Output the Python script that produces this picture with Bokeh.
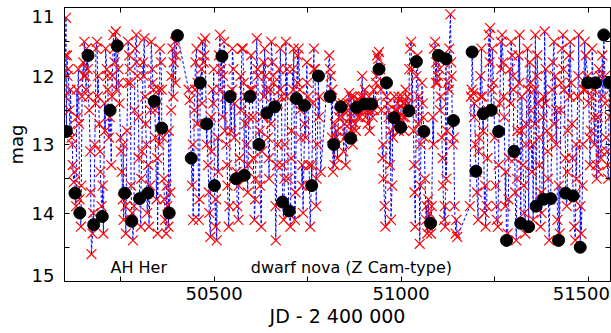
import numpy as np
from bokeh.plotting import figure
from bokeh.models import Range1d, FixedTicker, LinearAxis, Label, CustomJSTickFormatter
from bokeh.embed import file_html
from bokeh.resources import INLINE

# ---- red crosses: individual estimates, by season ----
jd_s1 = [50101, 50104, 50107, 50110, 50113, 50116, 50119, 50122, 50125, 50131, 50134, 50137,
         50140, 50144, 50147, 50150, 50153, 50156, 50159, 50162, 50166, 50169, 50172, 50175,
         50181, 50184, 50187, 50190, 50193, 50196, 50199, 50204, 50207, 50210, 50213, 50216,
         50219, 50225, 50228, 50231, 50234, 50237, 50244, 50247, 50250, 50253, 50256, 50258,
         50264, 50267, 50270, 50273, 50276, 50278, 50283, 50286, 50289, 50292, 50295, 50298,
         50304, 50307, 50310, 50313, 50316, 50319, 50321, 50326, 50329, 50332, 50335, 50338,
         50343, 50346, 50349, 50352, 50355, 50358, 50363, 50366, 50369, 50372, 50375, 50378,
         50383, 50386, 50389, 50392, 50395, 50398]
mag_s1 = [12.3, 11.15, 11.7, 11.9, 12.5, 12.2, 12.9, 13.3, 13.55, 13.9, 12.6, 11.9,
          13.8, 14.2, 12.3, 11.8, 11.5, 12.0, 11.6, 11.9, 12.5, 13.1, 14.6, 14.3,
          13.0, 11.6, 11.5, 12.0, 12.7, 13.4, 13.9, 14.3, 12.4, 11.6, 11.9, 12.2,
          12.9, 13.3, 12.0, 11.4, 11.8, 11.35, 11.9, 12.4, 12.9, 13.4, 13.8, 14.1,
          14.3, 12.8, 11.5, 11.7, 12.1, 13.6, 14.4, 13.9, 11.6, 11.4, 12.0, 12.6,
          14.2, 13.1, 11.8, 11.45, 12.3, 13.0, 14.0, 14.2, 13.6, 11.5, 11.9, 12.2,
          12.9, 13.8, 14.3, 12.2, 11.6, 11.8, 12.9, 13.5, 14.1, 14.3, 13.9, 14.2,
          13.7, 12.0, 11.6, 11.8, 11.5, 11.7]
jd_e1 = [50102, 50108, 50115, 50121, 50127, 50133, 50139, 50145, 50152, 50158, 50164, 50170,
         50177, 50183, 50189, 50195, 50202, 50209, 50215, 50221, 50227, 50233, 50239, 50245,
         50251, 50257, 50263, 50269, 50275, 50281, 50287, 50293, 50299, 50305, 50311, 50317,
         50324, 50330, 50336, 50342, 50348, 50354, 50360, 50367, 50373, 50379, 50385, 50391,
         50397]
mag_e1 = [11.7, 12.0, 12.8, 13.0, 13.4, 12.2, 12.7, 13.6, 12.0, 12.2, 12.3, 13.7,
          14.0, 12.4, 12.3, 13.1, 13.6, 12.8, 12.0, 12.6, 12.3, 11.6, 12.2, 12.1,
          13.1, 13.0, 13.9, 12.1, 11.9, 14.0, 12.5, 11.8, 13.2, 13.5, 12.0, 12.7,
          13.3, 12.5, 12.1, 12.5, 13.2, 13.0, 12.2, 13.8, 13.6, 12.8, 12.5, 12.3,
          12.1]

jd_s2 = [50432, 50435, 50441, 50444, 50447, 50450, 50453, 50456, 50459, 50466, 50469, 50472,
         50476, 50484, 50487, 50490, 50493, 50496, 50499, 50504, 50507, 50510, 50513, 50516,
         50519, 50524, 50527, 50530, 50533, 50536, 50539, 50546, 50549, 50552, 50555, 50562,
         50565, 50568, 50571, 50574, 50577, 50584, 50587, 50590, 50593, 50599, 50602, 50605,
         50608, 50611, 50614, 50617, 50623, 50626, 50629, 50632, 50635, 50638, 50644, 50647,
         50650, 50653, 50656, 50659, 50665, 50668, 50671, 50674, 50677, 50680, 50686, 50689,
         50692, 50695, 50698, 50704, 50707, 50710, 50713, 50716, 50723, 50726, 50729, 50732,
         50735, 50738, 50745, 50748, 50751, 50754, 50757, 50764, 50767, 50770, 50773, 50776,
         50782, 50785, 50808, 50812, 50815, 50818, 50823, 50826, 50830, 50834, 50837]
mag_s2 = [12.2, 12.35, 13.6, 14.1, 12.5, 11.8, 11.6, 12.1, 14.1, 11.9, 11.5, 11.8,
          11.45, 13.3, 14.0, 14.35, 13.1, 12.2, 11.9, 14.2, 14.4, 12.9, 11.7, 11.4,
          11.9, 12.0, 11.5, 12.3, 13.0, 13.6, 14.2, 12.8, 11.6, 11.9, 12.4, 13.9,
          14.1, 13.2, 12.0, 11.6, 11.6, 12.3, 13.0, 13.7, 12.6, 11.7, 12.2, 13.2,
          14.1, 13.5, 11.45, 12.0, 13.6, 14.2, 12.6, 11.8, 11.6, 12.0, 12.9, 13.5,
          12.2, 11.5, 11.8, 12.1, 14.4, 13.3, 12.4, 11.9, 11.6, 12.3, 14.1, 13.0,
          11.5, 11.9, 13.5, 14.2, 12.8, 11.9, 11.6, 14.1, 11.7, 11.6, 12.2, 12.9,
          13.6, 14.0, 12.9, 11.8, 12.3, 13.3, 14.2, 12.4, 11.6, 11.9, 13.9, 13.0,
          12.3, 13.4, 11.7, 12.0, 12.9, 13.4, 12.7, 12.9, 13.2, 12.6, 12.5]
jd_e2 = [50443, 50449, 50455, 50461, 50468, 50474, 50480, 50486, 50492, 50498, 50505, 50511,
         50517, 50523, 50529, 50535, 50541, 50548, 50554, 50560, 50566, 50572, 50579, 50585,
         50591, 50597, 50604, 50610, 50616, 50622, 50628, 50634, 50640, 50646, 50652, 50658,
         50664, 50670, 50676, 50682, 50688, 50694, 50700, 50706, 50712, 50718, 50724, 50730,
         50736, 50742, 50749, 50755, 50761, 50767, 50774, 50780, 50810, 50816, 50822, 50828,
         50833]
mag_e2 = [13.0, 12.2, 12.7, 13.8, 12.4, 11.7, 13.0, 13.7, 12.6, 12.4, 13.8, 13.4,
          12.2, 12.6, 12.8, 13.3, 13.9, 12.2, 12.9, 13.4, 13.6, 12.5, 12.1, 12.7,
          13.3, 12.2, 12.6, 13.8, 11.9, 12.8, 13.1, 12.3, 12.2, 13.2, 12.7, 12.0,
          13.9, 13.0, 12.2, 13.3, 13.5, 12.3, 14.0, 13.2, 12.2, 13.7, 12.1, 12.5,
          13.3, 12.7, 12.1, 13.6, 13.3, 11.9, 13.5, 12.6, 11.9, 12.2, 13.3, 12.8,
          12.4]

jd_s3 = [50842, 50846, 50849, 50852, 50855, 50858, 50861, 50864, 50868, 50871, 50874, 50877,
         50884, 50887, 50890, 50893, 50896, 50899, 50905, 50908, 50911, 50914, 50917, 50924,
         50927, 50930, 50933, 50936, 50939, 50944, 50947, 50950, 50953, 50956, 50958, 50964,
         50967, 50970, 50973, 50976, 50979, 50984, 50987, 50990, 50993, 50996, 51002, 51005,
         51008, 51011, 51014, 51017, 51024, 51027, 51030, 51033, 51036, 51038, 51044, 51047,
         51050, 51053, 51056, 51058, 51064, 51067, 51070, 51073, 51076, 51082, 51085, 51088,
         51091, 51094, 51097, 51103, 51106, 51109, 51112, 51115, 51118, 51123, 51126, 51129,
         51132, 51135, 51138, 51143, 51146, 51150]
mag_s3 = [12.6, 13.1, 12.7, 13.3, 12.85, 12.4, 12.25, 12.6, 12.8, 13.0, 12.3, 12.7,
          12.5, 12.35, 12.6, 12.4, 12.0, 12.3, 12.6, 12.45, 12.7, 12.3, 12.5, 12.6,
          12.2, 12.4, 12.1, 11.7, 11.75, 11.9, 12.5, 13.2, 13.5, 13.9, 14.2, 12.4,
          12.6, 13.3, 14.1, 13.6, 12.9, 12.5, 12.7, 12.4, 12.3, 12.6, 12.3, 12.4,
          12.8, 12.6, 12.5, 12.3, 11.6, 11.5, 11.9, 12.8, 13.7, 14.2, 11.7, 12.3,
          14.45, 13.0, 12.1, 12.4, 13.5, 14.1, 14.3, 13.8, 14.0, 13.9, 12.6, 11.6,
          11.5, 11.8, 12.1, 11.9, 12.3, 12.9, 13.6, 14.1, 14.2, 12.8, 12.1, 11.6,
          11.1, 12.0, 13.0, 13.9, 14.3, 14.35]
jd_e3 = [50844, 50850, 50856, 50862, 50866, 50872, 50879, 50885, 50892, 50898, 50903, 50910,
         50916, 50922, 50928, 50934, 50941, 50946, 50952, 50961, 50966, 50972, 50978, 50982,
         50988, 50994, 51000, 51006, 51012, 51019, 51022, 51029, 51035, 51041, 51046, 51052,
         51059, 51062, 51068, 51074, 51080, 51087, 51093, 51099, 51104, 51111, 51117, 51121,
         51128, 51134, 51141, 51148]
mag_e3 = [12.4, 12.9, 12.5, 12.7, 12.3, 12.5, 12.8, 12.6, 12.3, 12.5, 12.2, 12.5,
          12.8, 12.4, 12.5, 12.0, 11.65, 12.2, 13.0, 12.3, 12.5, 12.8, 12.6, 12.3,
          12.5, 12.8, 12.45, 12.6, 12.2, 12.4, 11.9, 12.5, 13.3, 12.0, 12.7, 13.6,
          12.6, 12.9, 13.9, 14.2, 14.3, 13.0, 12.1, 12.0, 12.5, 13.2, 13.9, 13.5,
          12.2, 11.8, 12.9, 14.1]

jd_s4 = [51184, 51187, 51193, 51196, 51199, 51203, 51206, 51209, 51212, 51215, 51217, 51223,
         51226, 51229, 51232, 51235, 51238, 51244, 51247, 51250, 51253, 51256, 51259, 51264,
         51267, 51270, 51273, 51276, 51279, 51285, 51288, 51291, 51294, 51297, 51300, 51305,
         51308, 51311, 51314, 51317, 51323, 51326, 51329, 51332, 51335, 51338, 51344, 51347,
         51350, 51353, 51356, 51359, 51364, 51367, 51370, 51373, 51376, 51379, 51384, 51387,
         51390, 51393, 51396, 51403, 51406, 51409, 51412, 51415, 51418, 51424, 51427, 51430,
         51433, 51436, 51443, 51446, 51449, 51452, 51455, 51458, 51463, 51466, 51469, 51472,
         51475, 51482, 51485, 51488, 51491, 51494, 51502, 51505, 51508, 51511, 51514, 51517,
         51523, 51526, 51529, 51532, 51535, 51538, 51545, 51548, 51551, 51554, 51558]
mag_s4 = [13.9, 12.3, 12.25, 12.4, 13.0, 13.7, 14.1, 12.9, 12.0, 11.6, 12.3, 14.0,
          14.2, 13.9, 12.5, 11.4, 11.3, 11.6, 12.1, 12.9, 13.6, 14.1, 14.2, 12.4,
          11.5, 11.4, 11.8, 12.6, 13.9, 14.3, 13.2, 11.9, 11.5, 11.7, 12.2, 13.7,
          14.4, 12.8, 11.7, 11.4, 12.3, 13.3, 14.0, 14.3, 12.7, 11.6, 11.8, 12.5,
          13.4, 14.1, 12.2, 11.4, 11.7, 12.4, 13.3, 14.2, 14.0, 12.6, 11.35, 11.9,
          12.8, 13.5, 14.4, 12.9, 11.8, 11.5, 12.0, 13.0, 14.1, 14.3, 12.5, 11.6,
          11.4, 12.2, 13.9, 12.8, 11.7, 11.5, 12.1, 13.2, 14.2, 14.4, 13.5, 12.3,
          11.4, 14.3, 13.6, 12.2, 11.5, 11.7, 12.4, 13.3, 12.8, 11.6, 12.2, 13.0,
          13.5, 12.6, 11.9, 12.0, 13.1, 11.7, 12.0, 12.9, 13.1, 13.5, 12.6]
jd_e4 = [51189, 51195, 51201, 51207, 51213, 51219, 51225, 51231, 51237, 51243, 51249, 51255,
         51261, 51268, 51274, 51280, 51287, 51293, 51299, 51304, 51310, 51316, 51322, 51328,
         51334, 51340, 51346, 51352, 51358, 51363, 51369, 51375, 51381, 51386, 51392, 51398,
         51404, 51410, 51416, 51422, 51428, 51434, 51440, 51445, 51451, 51457, 51462, 51468,
         51474, 51480, 51486, 51492, 51499, 51504, 51510, 51516, 51522, 51528, 51534, 51540,
         51546, 51552]
mag_e4 = [12.2, 12.6, 13.4, 13.1, 12.3, 12.8, 13.6, 13.2, 11.8, 12.2, 12.5, 13.9,
          13.3, 11.9, 12.3, 13.4, 13.8, 12.4, 12.0, 13.2, 13.5, 12.1, 12.8, 13.6,
          13.0, 12.2, 12.1, 13.0, 12.7, 12.0, 12.9, 13.7, 12.3, 12.4, 13.1, 13.8,
          12.2, 12.7, 12.5, 13.6, 12.1, 11.9, 13.2, 13.4, 12.3, 12.7, 13.8, 13.0,
          12.0, 13.9, 13.0, 12.2, 12.0, 12.9, 12.3, 12.6, 13.3, 13.4, 13.2, 12.3,
          12.4, 13.3]

# ---- black dots: mean estimates ----
jd_mean = [50105, 50128, 50141, 50163, 50178, 50201, 50222, 50241, 50261, 50280, 50301, 50323,
           50340, 50360, 50380, 50402, 50439, 50463, 50480, 50501, 50521, 50543, 50559, 50581,
           50596, 50620, 50641, 50662, 50683, 50701, 50720, 50742, 50761, 50779, 50810, 50820,
           50839, 50865, 50881, 50902, 50921, 50941, 50961, 50981, 50999, 51021, 51041, 51061,
           51079, 51100, 51120, 51140, 51190, 51200, 51220, 51241, 51261, 51282, 51302, 51320,
           51341, 51361, 51381, 51400, 51421, 51440, 51460, 51479, 51499, 51520, 51542, 51557]
mag_mean = [12.81, 13.71, 14.00, 11.70, 14.17, 14.05, 12.50, 11.56, 13.71, 14.12, 13.79, 13.71,
            12.37, 12.76, 14.00, 11.41, 13.20, 12.10, 12.70, 13.60, 11.71, 12.30, 13.50, 13.45,
            12.30, 13.00, 12.54, 12.45, 13.84, 13.97, 12.33, 12.43, 13.60, 12.00, 12.30, 13.00,
            12.45, 12.91, 12.46, 12.41, 12.41, 11.90, 12.10, 12.61, 12.75, 12.51, 11.79, 12.81,
            14.15, 11.70, 11.75, 12.65, 11.65, 13.39, 12.55, 12.50, 12.81, 14.40, 13.10, 14.15,
            14.20, 13.90, 13.80, 13.79, 14.40, 13.71, 13.75, 14.50, 12.10, 12.10, 11.40, 12.10]

# tick marks, and where the tick texts sit (edge texts are pulled inside the frame)
x_tick_marks = [50250, 50500, 50750, 51000, 51250, 51500]
x_tick_text_pos = [50500, 51000, 51482]
y_tick_marks = [11.5, 12, 12.5, 13, 13.5, 14, 14.5]
y_tick_text_pos = [11.13, 12, 13, 14, 14.91]

FONT = "DejaVu Sans"

jd_obs = jd_s1 + jd_e1 + jd_s2 + jd_e2 + jd_s3 + jd_e3 + jd_s4 + jd_e4
mag_obs = mag_s1 + mag_e1 + mag_s2 + mag_e2 + mag_s3 + mag_e3 + mag_s4 + mag_e4
all_jd = np.array(jd_obs + jd_mean, dtype=float)
all_mag = np.array(mag_obs + mag_mean, dtype=float)
order = np.argsort(all_jd, kind="stable")

p = figure(width=611, height=333, x_range=Range1d(50100, 51560), y_range=Range1d(15, 11),
           output_backend="svg", toolbar_location=None,
           min_border_left=64, min_border_right=1, min_border_top=7, min_border_bottom=52)
p.grid.visible = False
p.outline_line_color = "black"
p.outline_line_width = 1

p.line(all_jd[order], all_mag[order], line_color="blue", line_dash="3 2", line_width=1)
p.scatter(jd_obs, mag_obs, marker="x", size=14, line_color="red", line_width=1.2)
p.scatter(jd_mean, mag_mean, marker="circle", size=12, fill_color="black", line_color="black")

def style(ax, text_pos, marks):
    ax.ticker = FixedTicker(ticks=text_pos, minor_ticks=marks)
    ax.major_tick_in = 0
    ax.major_tick_out = 0
    ax.minor_tick_in = 5
    ax.minor_tick_out = 0
    ax.axis_line_color = "black"
    ax.minor_tick_line_color = "black"
    ax.major_label_text_font = FONT
    ax.major_label_text_font_size = "18px"
    ax.major_label_text_color = "black"
    ax.axis_label_text_font = FONT
    ax.axis_label_text_font_style = "normal"
    ax.axis_label_text_color = "black"

xb = p.xaxis[0]
style(xb, x_tick_text_pos, x_tick_marks)
xb.formatter = CustomJSTickFormatter(code="return String(Math.round(tick / 500) * 500);")
xb.major_label_standoff = 5
xb.axis_label = "JD - 2 400 000"
xb.axis_label_text_font_size = "19px"
xb.axis_label_standoff = 2

yl = p.yaxis[0]
style(yl, y_tick_text_pos, y_tick_marks)
yl.formatter = CustomJSTickFormatter(code="return String(Math.round(tick));")
yl.major_label_standoff = 10
yl.axis_label = "mag"
yl.axis_label_text_font_size = "18px"
yl.axis_label_standoff = 2

top = LinearAxis()
style(top, [], x_tick_marks)
p.add_layout(top, "above")
right = LinearAxis()
style(right, [], y_tick_marks)
p.add_layout(right, "right")

# annotations
p.add_layout(Label(x=50223, y=14.8, text="AH Her", text_font=FONT, text_font_size="16px",
                   text_color="black", text_baseline="alphabetic"))
p.add_layout(Label(x=50598, y=14.8, text="dwarf nova (Z Cam-type)", text_font=FONT,
                   text_font_size="16px", text_color="black", text_baseline="alphabetic"))

open("out.html", "w").write(file_html(p, INLINE))
